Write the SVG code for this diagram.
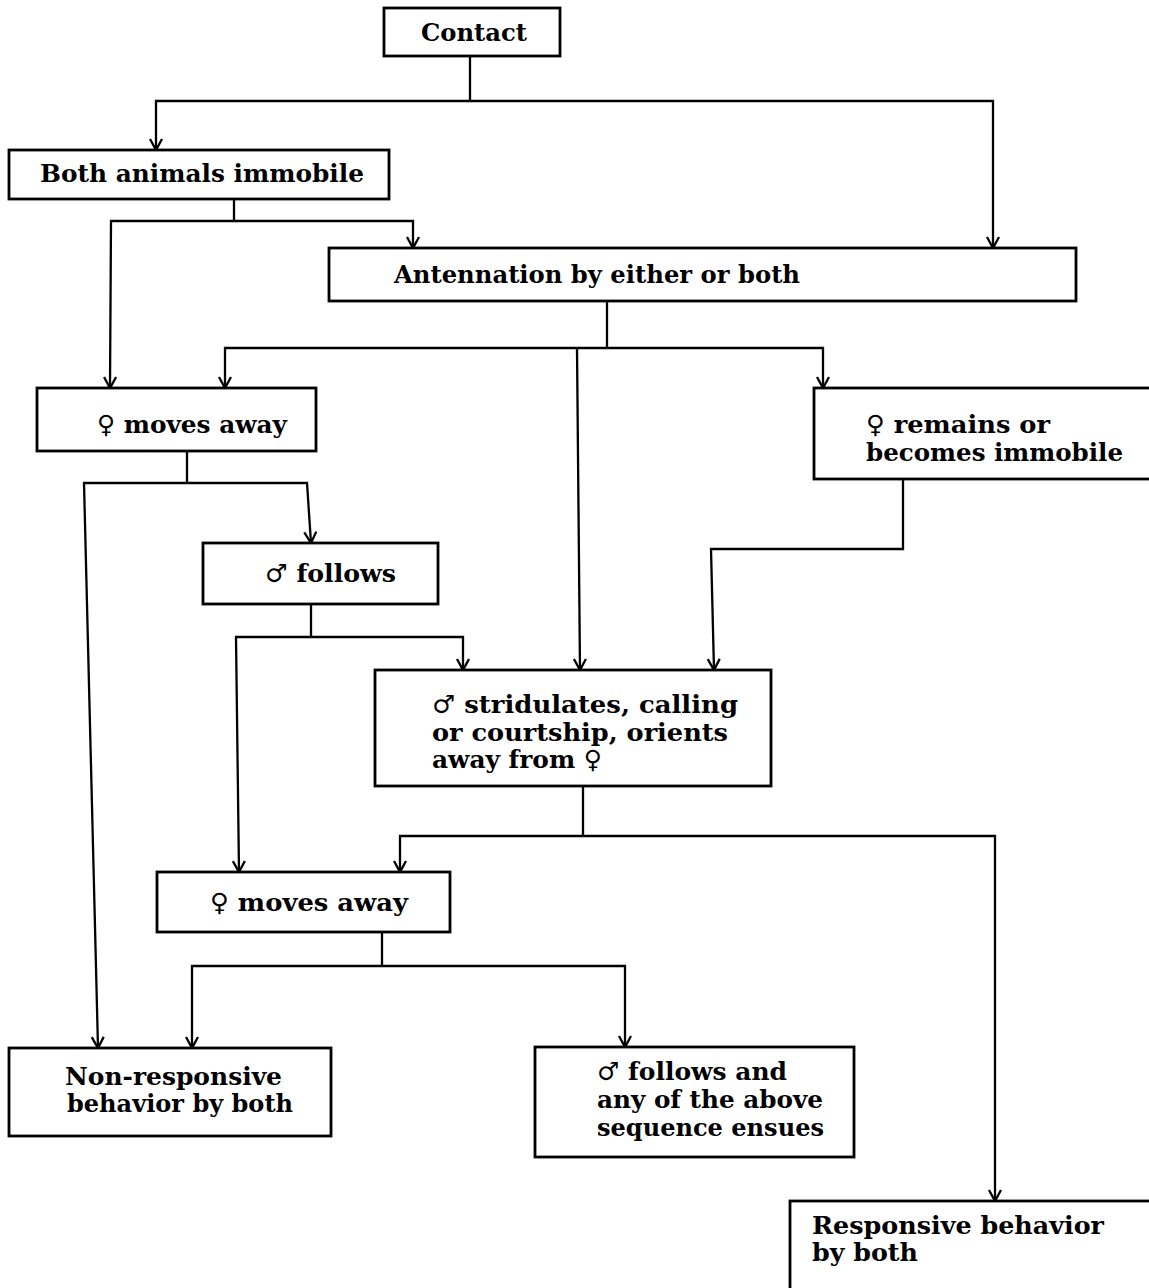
<svg xmlns="http://www.w3.org/2000/svg" width="1149" height="1288" viewBox="0 0 1149 1288">
<style>
.box{fill:#fff;stroke:#000;stroke-width:2.8}
.t{font-family:"DejaVu Serif","Liberation Serif",serif;font-weight:bold;font-size:25px;fill:#000}
.c path{fill:none;stroke:#000;stroke-width:2.3}
.a{marker-end:url(#arr)}
</style>
<defs>
<marker id="arr" markerUnits="userSpaceOnUse" markerWidth="16" markerHeight="16" refX="12" refY="7" orient="auto">
<path d="M1,1 L12,7 L1,13" fill="none" stroke="#000" stroke-width="2.3"/>
</marker>
</defs>
<rect width="1149" height="1288" fill="#fff"/>
<g class="c" id="connectors">
<path d="M470 56 V101"/>
<path class="a" d="M470 101 H156 V150"/>
<path class="a" d="M470 101 H993 V248"/>
<path d="M234 199 V221"/>
<path class="a" d="M234 221 H111 L110 388"/>
<path class="a" d="M234 221 H413 V248"/>
<path d="M607 301 V348"/>
<path class="a" d="M607 348 H225 V388"/>
<path class="a" d="M577 348 L580 670"/>
<path class="a" d="M607 348 H823 V388"/>
<path d="M187 451 V483"/>
<path class="a" d="M187 483 H84 L98 1048"/>
<path class="a" d="M187 483 H307 L311 543"/>
<path d="M311 604 V637"/>
<path class="a" d="M311 637 H236 L239 872"/>
<path class="a" d="M311 637 H463 V670"/>
<path class="a" d="M903 480 V549 H711 L714 670"/>
<path d="M583 786 V836"/>
<path class="a" d="M583 836 H400 V872"/>
<path class="a" d="M583 836 H995 V1201"/>
<path d="M382 932 V966"/>
<path class="a" d="M382 966 H192 V1048"/>
<path class="a" d="M382 966 H625 V1047"/>
</g>
<g id="contact">
<rect class="box" x="384" y="8" width="176" height="48"/>
<text class="t" x="421" y="41" textLength="106" lengthAdjust="spacingAndGlyphs">Contact</text>
</g>
<g id="both-immobile">
<rect class="box" x="9" y="150" width="380" height="49"/>
<text class="t" x="40" y="182" textLength="324" lengthAdjust="spacingAndGlyphs">Both animals immobile</text>
</g>
<g id="antennation">
<rect class="box" x="329" y="248" width="747" height="53"/>
<text class="t" x="394" y="283" textLength="406" lengthAdjust="spacingAndGlyphs">Antennation by either or both</text>
</g>
<g id="female-moves-away-1">
<rect class="box" x="37" y="388" width="279" height="63"/>
<text class="t" x="97" y="433" textLength="190" lengthAdjust="spacingAndGlyphs">♀ moves away</text>
</g>
<g id="female-remains">
<rect class="box" x="814" y="388" width="345" height="91"/>
<text class="t" x="866" y="433" textLength="184" lengthAdjust="spacingAndGlyphs">♀ remains or</text>
<text class="t" x="866" y="461" textLength="257" lengthAdjust="spacingAndGlyphs">becomes immobile</text>
</g>
<g id="male-follows">
<rect class="box" x="203" y="543" width="235" height="61"/>
<text class="t" x="265" y="582" textLength="131" lengthAdjust="spacingAndGlyphs">♂ follows</text>
</g>
<g id="male-stridulates">
<rect class="box" x="375" y="670" width="396" height="116"/>
<text class="t" x="432" y="713" textLength="306" lengthAdjust="spacingAndGlyphs">♂ stridulates, calling</text>
<text class="t" x="432" y="741" textLength="296" lengthAdjust="spacingAndGlyphs">or courtship, orients</text>
<text class="t" x="432" y="768" textLength="170" lengthAdjust="spacingAndGlyphs">away from ♀</text>
</g>
<g id="female-moves-away-2">
<rect class="box" x="157" y="872" width="293" height="60"/>
<text class="t" x="210" y="911" textLength="198" lengthAdjust="spacingAndGlyphs">♀ moves away</text>
</g>
<g id="non-responsive">
<rect class="box" x="9" y="1048" width="322" height="88"/>
<text class="t" x="65" y="1085" textLength="217" lengthAdjust="spacingAndGlyphs">Non-responsive</text>
<text class="t" x="67" y="1112" textLength="226" lengthAdjust="spacingAndGlyphs">behavior by both</text>
</g>
<g id="male-follows-sequence">
<rect class="box" x="535" y="1047" width="319" height="110"/>
<text class="t" x="597" y="1080" textLength="190" lengthAdjust="spacingAndGlyphs">♂ follows and</text>
<text class="t" x="597" y="1108" textLength="226" lengthAdjust="spacingAndGlyphs">any of the above</text>
<text class="t" x="597" y="1136" textLength="227" lengthAdjust="spacingAndGlyphs">sequence ensues</text>
</g>
<g id="responsive">
<rect class="box" x="790" y="1201" width="370" height="100"/>
<text class="t" x="812" y="1234" textLength="292" lengthAdjust="spacingAndGlyphs">Responsive behavior</text>
<text class="t" x="812" y="1261" textLength="106" lengthAdjust="spacingAndGlyphs">by both</text>
</g>
</svg>
